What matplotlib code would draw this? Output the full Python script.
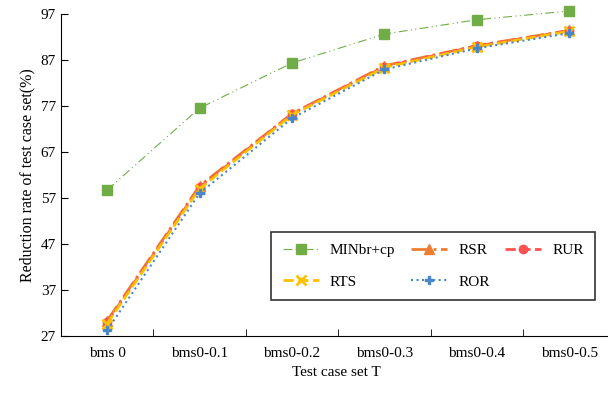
import numpy as np
import matplotlib.pyplot as plt

plt.rcParams['font.family'] = ['Liberation Serif', 'DejaVu Serif']

sets = ['bms 0', 'bms0-0.1', 'bms0-0.2', 'bms0-0.3', 'bms0-0.4', 'bms0-0.5']
minbr = [58.7, 76.5, 86.3, 92.6, 95.7, 97.6]
rsr = [30.3, 59.6, 75.3, 85.7, 90.1, 93.4]
rur = [30.0, 59.3, 75.2, 85.5, 90.0, 93.3]
rts = [29.7, 59.0, 75.0, 85.3, 89.8, 93.2]
ror = [28.2, 58.0, 74.3, 84.9, 89.5, 92.8]

x = np.arange(len(sets))

fig = plt.figure(figsize=(6.08, 3.93), dpi=100)
ax = fig.add_axes([0.1, 0.145, 0.905, 0.82])

l1, = ax.plot(x, minbr, color='#70AD47', linestyle=(0, (8, 3, 1, 3, 1, 3)), linewidth=0.8,
              marker='s', markersize=7, label='MINbr+cp', clip_on=False)
l2, = ax.plot(x, rsr, color='#ED7D31', linestyle='-.', linewidth=2,
              marker='^', markersize=7, label='RSR', clip_on=False)
l3, = ax.plot(x, rur, color='#FF5050', linestyle='--', linewidth=2,
              marker='o', markersize=6, label='RUR', clip_on=False)
l4, = ax.plot(x, rts, color='#FFC000', linestyle='--', linewidth=2,
              marker='x', markersize=7, markeredgewidth=2, label='RTS', clip_on=False)
l5, = ax.plot(x, ror, color='#4A86C8', linestyle=':', linewidth=1.5,
              marker='P', markersize=6, label='ROR', clip_on=False)

ax.set_xlim(-0.5, 5.45)
ax.set_ylim(27, 97)
ax.set_yticks(np.arange(27, 98, 10))
ax.set_xticks(x)
ax.set_xticklabels(sets)
ax.set_xticks(np.arange(0.5, 5, 1), minor=True)
ax.tick_params(axis='x', which='major', length=0, pad=8)
ax.tick_params(axis='x', which='minor', direction='in', length=5)
ax.tick_params(axis='y', direction='in', length=5)
ax.tick_params(labelsize=11)
for s in ['top', 'right']:
    ax.spines[s].set_visible(False)

ax.set_xlabel('Test case set T', fontsize=11)
ax.set_ylabel('Reduction rate of test case set(%)', fontsize=11.5)

handles = [l1, l4, l2, l5, l3]
leg = ax.legend(handles, [h.get_label() for h in handles], ncol=3, loc='lower right',
                bbox_to_anchor=(0.985, 0.088), fontsize=11,
                frameon=True, fancybox=False, edgecolor='black', handlelength=2.4,
                handletextpad=0.7, columnspacing=1.0, borderpad=0.75, labelspacing=1.15)
leg.get_frame().set_linewidth(1.2)

fig.savefig('out.png', dpi=100)
